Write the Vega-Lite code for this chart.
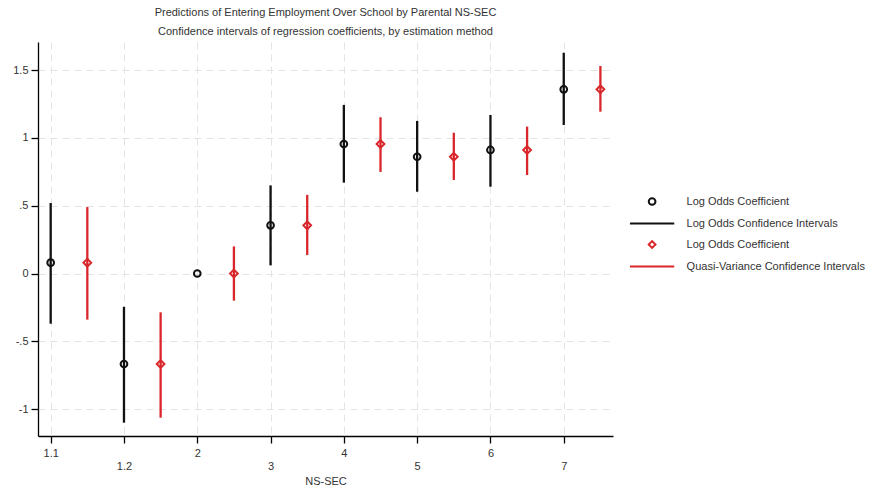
{
  "$schema": "https://vega.github.io/schema/vega-lite/v6.json",
  "width": 575,
  "height": 394,
  "autosize": {"type": "none"},
  "padding": {"left": 38, "top": 42, "right": 266, "bottom": 55},
  "background": "white",
  "title": {
    "text": "Predictions of Entering Employment Over School by Parental NS-SEC",
    "subtitle": "Confidence intervals of regression coefficients, by estimation method",
    "font": "Liberation Sans",
    "subtitleFont": "Liberation Sans",
    "fontSize": 11,
    "subtitleFontSize": 11,
    "fontWeight": "normal",
    "color": "#333333",
    "subtitleColor": "#333333",
    "anchor": "middle",
    "offset": 5,
    "subtitlePadding": 8
  },
  "config": {
    "view": {"stroke": null},
    "axis": {
      "labelFont": "Liberation Sans",
      "titleFont": "Liberation Sans",
      "labelFontSize": 11,
      "titleFontSize": 11,
      "titleFontWeight": "normal",
      "labelColor": "#333333",
      "titleColor": "#333333",
      "domainColor": "#000000",
      "domainWidth": 1.3,
      "tickColor": "#000000",
      "tickWidth": 1.3,
      "tickSize": 7,
      "grid": true,
      "gridColor": "#e3e3e3",
      "gridDash": [7, 5],
      "gridWidth": 1
    }
  },
  "data": {
    "values": [
      {"ns_sec": "1.1", "idx": 0, "method": "lo", "est": 0.08, "lo": -0.37, "hi": 0.52},
      {"ns_sec": "1.1", "idx": 0, "method": "qv", "est": 0.08, "lo": -0.34, "hi": 0.49},
      {"ns_sec": "1.2", "idx": 1, "method": "lo", "est": -0.667, "lo": -1.1, "hi": -0.245},
      {"ns_sec": "1.2", "idx": 1, "method": "qv", "est": -0.667, "lo": -1.063, "hi": -0.286},
      {"ns_sec": "2", "idx": 2, "method": "lo", "est": 0, "lo": null, "hi": null},
      {"ns_sec": "2", "idx": 2, "method": "qv", "est": 0, "lo": -0.2, "hi": 0.2},
      {"ns_sec": "3", "idx": 3, "method": "lo", "est": 0.355, "lo": 0.06, "hi": 0.65},
      {"ns_sec": "3", "idx": 3, "method": "qv", "est": 0.355, "lo": 0.136, "hi": 0.58},
      {"ns_sec": "4", "idx": 4, "method": "lo", "est": 0.955, "lo": 0.67, "hi": 1.243},
      {"ns_sec": "4", "idx": 4, "method": "qv", "est": 0.955, "lo": 0.749, "hi": 1.152},
      {"ns_sec": "5", "idx": 5, "method": "lo", "est": 0.861, "lo": 0.603, "hi": 1.125},
      {"ns_sec": "5", "idx": 5, "method": "qv", "est": 0.861, "lo": 0.69, "hi": 1.038},
      {"ns_sec": "6", "idx": 6, "method": "lo", "est": 0.911, "lo": 0.64, "hi": 1.169},
      {"ns_sec": "6", "idx": 6, "method": "qv", "est": 0.911, "lo": 0.726, "hi": 1.083},
      {"ns_sec": "7", "idx": 7, "method": "lo", "est": 1.358, "lo": 1.095, "hi": 1.628},
      {"ns_sec": "7", "idx": 7, "method": "qv", "est": 1.358, "lo": 1.193, "hi": 1.53}
    ]
  },
  "transform": [
    {"calculate": "datum.idx + (datum.method == 'qv' ? 0.5 : 0)", "as": "xpos"}
  ],
  "layer": [
    {
      "transform": [
        {"filter": "datum.lo != null"}
      ],
      "mark": {"type": "rule", "strokeWidth": 2.3},
      "encoding": {
        "x": {
          "field": "xpos",
          "type": "quantitative",
          "scale": {"domain": [-0.173, 7.672], "nice": false, "zero": false},
          "axis": {
            "values": [0, 1, 2, 3, 4, 5, 6, 7],
            "labelExpr": "datum.value % 2 == 1 ? ['', ['1.1','1.2','2','3','4','5','6','7'][datum.value]] : ['1.1','1.2','2','3','4','5','6','7'][datum.value]",
            "title": "NS-SEC",
            "labelPadding": 4,
            "titlePadding": 4
          }
        },
        "y": {
          "field": "lo",
          "type": "quantitative",
          "scale": {"domain": [-1.198, 1.707], "nice": false, "zero": false},
          "axis": {
            "values": [-1, -0.5, 0, 0.5, 1, 1.5],
            "labelExpr": "datum.value == 0.5 ? '.5' : datum.value == -0.5 ? '-.5' : '' + datum.value",
            "title": null,
            "labelPadding": 3
          }
        },
        "y2": {"field": "hi"},
        "stroke": {
          "field": "method",
          "type": "nominal",
          "scale": {"domain": ["lo", "qv"], "range": ["#111111", "#d9262b"]},
          "legend": null
        }
      }
    },
    {
      "transform": [
        {"calculate": "datum.method + '_pt'", "as": "key"}
      ],
      "mark": {"type": "point", "filled": false, "strokeWidth": 2, "opacity": 1},
      "encoding": {
        "x": {"field": "xpos", "type": "quantitative"},
        "y": {"field": "est", "type": "quantitative"},
        "size": {"condition": {"test": "datum.method == 'qv'", "value": 60}, "value": 45},
        "color": {
          "field": "key",
          "type": "nominal",
          "scale": {
            "domain": ["lo_pt", "lo_ci", "qv_pt", "qv_ci"],
            "range": ["#111111", "#111111", "#d9262b", "#d9262b"]
          },
          "legend": {
            "orient": "none",
            "legendX": 608.6,
            "legendY": 154,
            "title": null,
            "padding": 0,
            "labelFont": "Liberation Sans",
            "labelFontSize": 11,
            "labelColor": "#333333",
            "labelLimit": 400,
            "labelOffset": 29,
            "symbolSize": 45,
            "symbolStrokeWidth": 2,
            "rowPadding": 8,
            "labelExpr": "datum.value == 'lo_pt' ? 'Log Odds Coefficient' : datum.value == 'lo_ci' ? 'Log Odds Confidence Intervals' : datum.value == 'qv_pt' ? 'Log Odds Coefficient' : 'Quasi-Variance Confidence Intervals'"
          }
        },
        "shape": {
          "field": "key",
          "type": "nominal",
          "scale": {
            "domain": ["lo_pt", "lo_ci", "qv_pt", "qv_ci"],
            "range": ["circle", "M-6.6,0H6.6", "diamond", "M-6.6,0H6.6"]
          }
        }
      }
    }
  ]
}
